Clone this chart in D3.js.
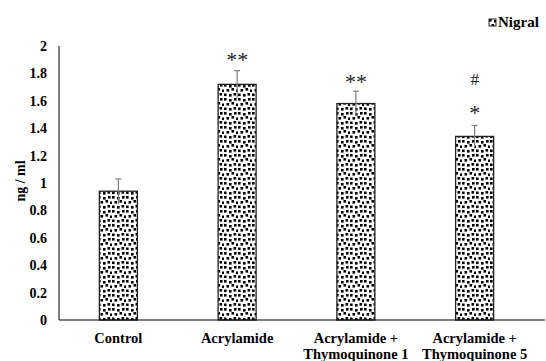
<!DOCTYPE html>
<html>
<head>
<meta charset="utf-8">
<script src="https://cdn.jsdelivr.net/npm/d3@7"></script>
<style>
  html, body { margin: 0; padding: 0; background: #fff; }
  svg { display: block; }
</style>
</head>
<body>
<svg id="chart" width="546" height="361"></svg>
<script>
// Nigral concentration per group (ng / ml)
const groups = [
  ["Control"],
  ["Acrylamide"],
  ["Acrylamide +", "Thymoquinone 1"],
  ["Acrylamide +", "Thymoquinone 5"]
];
const means = [0.94, 1.72, 1.58, 1.34];
const errors = [0.09, 0.10, 0.09, 0.08];
const marks = [[], ["**"], ["**"], ["#", "*"]];
const yTicks = [0, 0.2, 0.4, 0.6, 0.8, 1, 1.2, 1.4, 1.6, 1.8, 2];
const seriesName = "Nigral";

const serif = "'Liberation Serif', 'Times New Roman', serif";
const svg = d3.select("#chart").attr("font-family", serif).attr("font-weight", "bold");
const plotLeft = 59, plotRight = 534, plotTop = 46, plotBottom = 320;

const x = d3.scaleBand().domain(d3.range(groups.length)).range([plotLeft, plotRight]).paddingInner(0.68).paddingOuter(0.34);
const y = d3.scaleLinear().domain([0, 2]).range([plotBottom, plotTop]);

// confetti fill
const defs = svg.append("defs");
const pat = defs.append("pattern").attr("id", "confetti").attr("patternUnits", "userSpaceOnUse")
  .attr("width", 14).attr("height", 14);
pat.append("rect").attr("width", 14).attr("height", 14).attr("fill", "#fff");
const dots = [[0,0],[5,1],[10,0],[2.5,5],[7.5,4],[12,5.5],[0,9.5],[5,10],[9.5,9]];
dots.forEach(([dx, dy]) => {
  pat.append("rect").attr("x", dx).attr("y", dy).attr("width", 2.6).attr("height", 2.6).attr("fill", "#000");
});

// bars
svg.append("g").selectAll("rect").data(means).join("rect")
  .attr("x", (d, i) => x(i))
  .attr("y", d => y(d))
  .attr("width", x.bandwidth())
  .attr("height", d => y(0) - y(d))
  .attr("fill", "url(#confetti)")
  .attr("stroke", "#222")
  .attr("stroke-width", 1.3);

// error bars
const eb = svg.append("g").attr("stroke", "#7f7f7f").attr("stroke-width", 1.2);
means.forEach((m, i) => {
  const cx = x(i) + x.bandwidth() / 2;
  eb.append("line").attr("x1", cx).attr("x2", cx).attr("y1", y(m - errors[i])).attr("y2", y(m + errors[i]));
  eb.append("line").attr("x1", cx - 3).attr("x2", cx + 3).attr("y1", y(m + errors[i])).attr("y2", y(m + errors[i]));
});

// significance marks, stacked above each error bar (pixel gaps)
const markGaps = [[], [4], [2], [40, 5]];
marks.forEach((ms, i) => {
  const cx = x(i) + x.bandwidth() / 2;
  ms.forEach((t, j) => {
    svg.append("text")
      .attr("x", cx)
      .attr("y", y(means[i] + errors[i]) - markGaps[i][j])
      .attr("text-anchor", "middle")
      .attr("font-size", t === "#" ? 17 : 22)
      .attr("font-weight", "normal")
      .attr("fill", "#222")
      .text(t);
  });
});

// axes
svg.append("line").attr("x1", plotLeft).attr("x2", plotLeft).attr("y1", plotTop).attr("y2", plotBottom).attr("stroke", "#000").attr("stroke-width", 1);
svg.append("line").attr("x1", plotLeft).attr("x2", 545).attr("y1", plotBottom).attr("y2", plotBottom).attr("stroke", "#000").attr("stroke-width", 1);

svg.append("g").selectAll("text").data(yTicks).join("text")
  .attr("x", 47).attr("y", d => y(d)).attr("dy", "0.35em")
  .attr("text-anchor", "end").attr("font-size", 14).text(d => d);

groups.forEach((lines, i) => {
  const cx = x(i) + x.bandwidth() / 2;
  lines.forEach((l, j) => {
    svg.append("text").attr("x", cx).attr("y", 343 + j * 16)
      .attr("text-anchor", "middle").attr("font-size", 14.5).text(l);
  });
});

svg.append("text").attr("transform", "translate(25,181) rotate(-90)")
  .attr("text-anchor", "middle").attr("font-size", 14).text("ng / ml");

// legend
const lg = svg.append("g").attr("transform", "translate(489,19)");
lg.append("rect").attr("width", 7).attr("height", 7).attr("fill", "url(#confetti)").attr("stroke", "#222").attr("stroke-width", 1);
lg.append("text").attr("x", 9).attr("y", 8).attr("font-size", 15).text(seriesName);
</script>
</body>
</html>
